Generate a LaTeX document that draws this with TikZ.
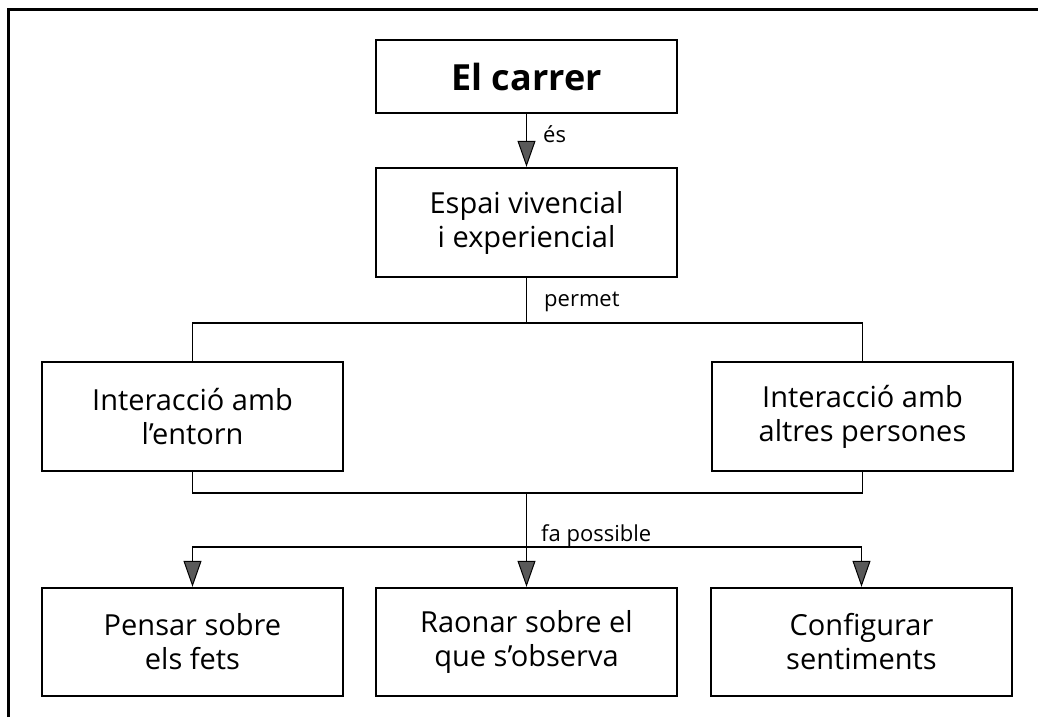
\documentclass[tikz,border=0pt]{standalone}
\usepackage{fontspec}
\setmainfont{Open Sans}
\usetikzlibrary{arrows.meta}
\begin{document}
\begin{tikzpicture}[x=1pt,y=-1pt,
  box/.style={draw, line width=2.4pt, rectangle, minimum width=301pt, minimum height=108pt, align=center, inner sep=0pt,
    font=\fontsize{29}{34}\selectfont},
  topbox/.style={box, minimum height=73pt, font=\fontsize{36}{40}\bfseries\selectfont},
  conn/.style={line width=1.3pt},
  arr/.style={conn, -{Triangle[length=26pt,width=18pt,fill=black!65,line width=1pt]}},
  lbl/.style={anchor=west, inner sep=0pt, font=\fontsize{22}{26}\selectfont}]
\useasboundingbox (0,0) rectangle (1038,717);
\draw[line width=3pt] (8,717) -- (8,10) -- (1038,10);

\node[topbox] (top) at (526.5,76.5) {El carrer};
\node[box, minimum height=109pt] (esp) at (526.5,222.5) {Espai vivencial\\i experiencial};
\node[box, minimum height=109pt] (ie) at (192.5,416.5) {Interacció amb\\l’entorn};
\node[box, minimum height=109pt] (ip) at (862.5,416.5) {Interacció amb\\altres persones};
\node[box] (p1) at (192.5,642) {Pensar sobre\\els fets};
\node[box] (p2) at (526.5,642) {Raonar sobre el\\que s’observa};
\node[box] (p3) at (861.5,642) {Configurar\\sentiments};

\coordinate (j1) at (526.5,323);
\coordinate (j2) at (526.5,493);
\coordinate (j3) at (526.5,547);

\draw[arr] (top) -- (esp);
\node[lbl] (les) at (543,134) {és};

\draw[conn] (esp.south) -- (j1);
\draw[conn] (ie.north) |- (j1) -| (ip.north);
\node[lbl] (lpe) at (544,302) {permet};

\draw[conn] (ie.south) |- (j2) -| (ip.south);
\draw[conn] (j2) -- (j3);
\node[lbl] (lfa) at (541,536) {fa possible};
\draw[arr] (j3) -- (p2.north);
\draw[arr] (j3) -| (p1.north);
\draw[arr] (j3) -| (p3.north);
\end{tikzpicture}
\end{document}
